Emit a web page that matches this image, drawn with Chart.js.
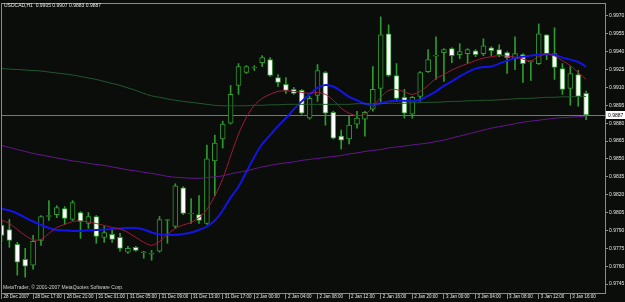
<!DOCTYPE html>
<html>
<head>
<meta charset="utf-8">
<script src="https://cdn.jsdelivr.net/npm/chart.js@4.4.1/dist/chart.umd.min.js"></script>
<style>
html,body{margin:0;padding:0;background:#0a0d0a;}
#wrap{width:625px;height:302px;position:relative;}
canvas{display:block;}
</style>
</head>
<body>
<div id="wrap"><canvas id="c" width="625" height="302"></canvas></div>
<script>
// ---------- data (USDCAD, H1) ----------
const symbolTitle = "USDCAD,H1";
const copyrightText = "MetaTrader, \u00a9 2001-2007 MetaQuotes Software Corp.";

const openP = [0.97942,0.97908,0.97783,0.97658,0.97608,0.97817,0.98017,0.98033,0.98083,0.97992,
0.98050,0.97958,0.98017,0.97842,0.97867,0.97842,0.97717,0.97758,0.97713,0.97700,
0.97725,0.97983,0.97933,0.98258,0.98038,0.98033,0.97958,0.98483,0.98667,0.98800,
0.99117,0.99225,0.99263,0.99308,0.99333,0.99183,0.99125,0.99083,0.99075,0.98842,
0.99033,0.99225,0.98892,0.98692,0.98667,0.98792,0.98833,0.98917,0.99092,0.99550,
0.99200,0.99017,0.98875,0.99025,0.99233,0.99363,0.99392,0.99425,0.99375,0.99383,
0.99408,0.99383,0.99433,0.99417,0.99392,0.99342,0.99375,0.99313,0.99300,0.99542,
0.99383,0.99258,0.99092,0.99208,0.99050];
const highP = [0.97983,0.97992,0.97800,0.97750,0.97858,0.98025,0.98150,0.98108,0.98100,0.98150,
0.98058,0.98050,0.98025,0.97933,0.97900,0.97875,0.97767,0.97767,0.97725,0.97733,
0.98017,0.97992,0.98292,0.98267,0.98167,0.98192,0.98617,0.98700,0.98817,0.99117,
0.99300,0.99283,0.99283,0.99367,0.99350,0.99208,0.99183,0.99100,0.99083,0.99025,
0.99292,0.99233,0.98900,0.98742,0.98858,0.98900,0.98900,0.99275,0.99692,0.99625,
0.99300,0.99083,0.99025,0.99233,0.99417,0.99525,0.99425,0.99433,0.99467,0.99425,
0.99417,0.99508,0.99442,0.99458,0.99400,0.99525,0.99383,0.99325,0.99633,0.99542,
0.99600,0.99300,0.99275,0.99242,0.99070];
const lowP = [0.97808,0.97758,0.97525,0.97508,0.97575,0.97775,0.97983,0.98008,0.97950,0.97983,
0.97833,0.97917,0.97792,0.97800,0.97800,0.97725,0.97708,0.97725,0.97667,0.97650,
0.97717,0.97792,0.97917,0.98033,0.97958,0.97958,0.97950,0.98192,0.98592,0.98792,
0.99042,0.99217,0.99242,0.99275,0.99192,0.99108,0.99050,0.99042,0.98875,0.98833,
0.98983,0.98783,0.98667,0.98583,0.98625,0.98758,0.98692,0.98900,0.98967,0.99192,
0.98983,0.98842,0.98842,0.98983,0.99225,0.99167,0.99150,0.99308,0.99342,0.99300,
0.99358,0.99367,0.99367,0.99358,0.99217,0.99250,0.99142,0.99158,0.99292,0.99333,
0.99167,0.99042,0.98950,0.98942,0.98830];
const closeP = [0.97858,0.97817,0.97633,0.97600,0.97808,0.98017,0.98025,0.98092,0.98000,0.98133,
0.97975,0.98017,0.97850,0.97883,0.97825,0.97750,0.97750,0.97733,0.97717,0.97704,
0.97992,0.97988,0.98275,0.98042,0.98042,0.97983,0.98500,0.98633,0.98792,0.99042,
0.99275,0.99275,0.99267,0.99350,0.99200,0.99142,0.99075,0.99050,0.98883,0.99008,
0.99242,0.98883,0.98675,0.98658,0.98783,0.98842,0.98892,0.99083,0.99542,0.99200,
0.99008,0.98883,0.99017,0.99225,0.99333,0.99367,0.99417,0.99367,0.99400,0.99417,
0.99375,0.99450,0.99408,0.99375,0.99350,0.99383,0.99300,0.99317,0.99550,0.99375,
0.99267,0.99083,0.99217,0.99025,0.98870];

// moving averages
const maRed = [0.97988,0.97958,0.97908,0.97858,0.97821,0.97825,0.97875,0.97925,0.97950,0.97975,
0.97979,0.97971,0.97958,0.97942,0.97925,0.97913,0.97883,0.97842,0.97800,0.97775,
0.97808,0.97867,0.97917,0.97946,0.97967,0.98008,0.98075,0.98192,0.98333,0.98525,
0.98708,0.98850,0.98950,0.99008,0.99042,0.99067,0.99071,0.99067,0.99058,0.99050,
0.99058,0.99042,0.98992,0.98925,0.98883,0.98863,0.98875,0.98933,0.99017,0.99075,
0.99081,0.99063,0.99042,0.99067,0.99117,0.99175,0.99208,0.99246,0.99275,0.99300,
0.99325,0.99346,0.99358,0.99367,0.99363,0.99354,0.99338,0.99321,0.99358,0.99383,
0.99363,0.99325,0.99283,0.99225,0.99167];
const maBlue = [0.98083,0.98067,0.98042,0.98008,0.97975,0.97946,0.97921,0.97904,0.97900,0.97896,
0.97896,0.97900,0.97904,0.97908,0.97913,0.97917,0.97921,0.97921,0.97908,0.97883,
0.97867,0.97863,0.97863,0.97871,0.97883,0.97904,0.97933,0.97983,0.98067,0.98175,
0.98267,0.98392,0.98517,0.98625,0.98700,0.98775,0.98842,0.98917,0.98983,0.99042,
0.99096,0.99121,0.99108,0.99067,0.99021,0.98992,0.98963,0.98950,0.98967,0.98983,
0.98988,0.98988,0.98983,0.98996,0.99029,0.99067,0.99113,0.99150,0.99192,0.99229,
0.99258,0.99271,0.99275,0.99300,0.99325,0.99346,0.99358,0.99367,0.99375,0.99379,
0.99375,0.99350,0.99333,0.99313,0.99275];
const maGreen = [0.99258,0.99254,0.99250,0.99246,0.99242,0.99238,0.99229,0.99221,0.99213,0.99204,
0.99192,0.99179,0.99167,0.99150,0.99133,0.99117,0.99096,0.99075,0.99050,0.99029,
0.99017,0.99004,0.98992,0.98983,0.98975,0.98967,0.98958,0.98950,0.98946,0.98946,
0.98946,0.98946,0.98950,0.98950,0.98954,0.98954,0.98958,0.98958,0.98958,0.98958,
0.98958,0.98958,0.98958,0.98958,0.98958,0.98963,0.98963,0.98963,0.98963,0.98967,
0.98967,0.98967,0.98971,0.98971,0.98975,0.98975,0.98979,0.98983,0.98983,0.98988,
0.98988,0.98992,0.98992,0.98996,0.99000,0.99004,0.99008,0.99008,0.99013,0.99017,
0.99017,0.99021,0.99021,0.99025,0.99025];
const maPurple = [0.98613,0.98596,0.98579,0.98563,0.98546,0.98533,0.98521,0.98508,0.98496,0.98483,
0.98475,0.98463,0.98454,0.98446,0.98433,0.98421,0.98408,0.98400,0.98388,0.98379,
0.98367,0.98354,0.98346,0.98342,0.98338,0.98338,0.98342,0.98350,0.98358,0.98375,
0.98388,0.98400,0.98417,0.98433,0.98446,0.98458,0.98467,0.98475,0.98488,0.98496,
0.98504,0.98513,0.98521,0.98529,0.98542,0.98550,0.98563,0.98571,0.98579,0.98592,
0.98600,0.98608,0.98617,0.98625,0.98633,0.98646,0.98658,0.98675,0.98692,0.98708,
0.98725,0.98742,0.98758,0.98771,0.98783,0.98796,0.98808,0.98817,0.98825,0.98833,
0.98842,0.98846,0.98850,0.98854,0.98858];

// time axis labels (every 4th bar) and price axis labels
const dateLabels = ["28 Dec 2007","28 Dec 17:00","28 Dec 21:00","31 Dec 01:00","31 Dec 05:00",
"31 Dec 09:00","31 Dec 13:00","31 Dec 17:00","2 Jan 00:00","2 Jan 04:00","2 Jan 08:00",
"2 Jan 12:00","2 Jan 16:00","2 Jan 20:00","3 Jan 00:00","3 Jan 04:00","3 Jan 08:00",
"3 Jan 12:00","3 Jan 16:00"];
const dateLabelBars = [0,4,8,12,16,20,24,28,32,36,40,44,48,52,56,60,64,68,72];
const priceTicks = [0.9745,0.9760,0.9775,0.9790,0.9805,0.9820,0.9835,0.9850,0.9865,
0.9880,0.9895,0.9910,0.9925,0.9940,0.9955,0.9970];

// ---------- styling ----------
const BG = '#0a0d0a';
const CANDLE = '#2f9a2f';
const FRAME = '#8a8a8a';
const TXT = '#e6e6e6';
const FONT = "'Liberation Sans', Arial, sans-serif";

const n = closeP.length;
const bars = openP.map((_, i) => i);
const bodyData = bars.map(i => ({x: i, y: [Math.min(openP[i], closeP[i]), Math.max(openP[i], closeP[i])]}));
const wickData = bars.map(i => ({x: i, y: [lowP[i], highP[i]]}));
const bodyFill = bars.map(i => closeP[i] >= openP[i] ? BG : '#ffffff');
const line = (arr) => bars.map(i => ({x: i, y: arr[i]}));

const decor = {
  id: 'decor',
  beforeDraw(chart) {
    const {ctx, width, height} = chart;
    ctx.save();
    ctx.fillStyle = BG;
    ctx.fillRect(0, 0, width, height);
    ctx.restore();
  },
  beforeDatasetsDraw(chart) {
    const {ctx, chartArea: a, scales: {y}} = chart;
    const py = Math.round(y.getPixelForValue(closeP[n - 1])) + 0.5;
    ctx.save();
    ctx.strokeStyle = '#777777';
    ctx.lineWidth = 1;
    ctx.beginPath();
    ctx.moveTo(a.left, py);
    ctx.lineTo(a.right, py);
    ctx.stroke();
    ctx.restore();
  },
  afterDraw(chart) {
    const {ctx, chartArea: a, scales: {y}} = chart;
    ctx.save();
    ctx.strokeStyle = FRAME;
    ctx.lineWidth = 1;
    ctx.strokeRect(a.left - 0.5, a.top - 0.5, a.right - a.left + 1, a.bottom - a.top + 1);
    ctx.fillStyle = TXT;
    ctx.font = "5px " + FONT;
    ctx.textBaseline = 'middle';
    ctx.textAlign = 'left';
    const hdr = symbolTitle + "  " + openP[n-1].toFixed(4) + " " + highP[n-1].toFixed(4) + " " +
                lowP[n-1].toFixed(4) + " " + closeP[n-1].toFixed(4);
    ctx.fillText(hdr, 4, 6);
    ctx.fillStyle = '#d0d0d0';
    ctx.fillText(copyrightText, 3, 288);
    const py = Math.round(y.getPixelForValue(closeP[n - 1]));
    ctx.fillStyle = '#ffffff';
    ctx.fillRect(a.right + 1, py - 4, 19, 8);
    ctx.fillStyle = '#000000';
    ctx.fillText(closeP[n - 1].toFixed(4), a.right + 3, py + 0.5);
    ctx.restore();
  }
};

new Chart(document.getElementById('c'), {
  type: 'bar',
  data: {
    datasets: [
      {type: 'line', data: line(maPurple), borderColor: '#65158f', borderWidth: 1, pointRadius: 0, tension: 0.3, order: 0},
      {type: 'line', data: line(maGreen), borderColor: '#22572f', borderWidth: 1, pointRadius: 0, tension: 0.3, order: 0},
      {type: 'line', data: line(maRed), borderColor: '#a3183c', borderWidth: 1, pointRadius: 0, tension: 0.3, order: 0},
      {type: 'line', data: line(maBlue), borderColor: '#1414e6', borderWidth: 2, pointRadius: 0, tension: 0.3, order: 0},
      {type: 'bar', data: bodyData, backgroundColor: bodyFill, borderColor: CANDLE, borderWidth: 1,
       borderSkipped: false, barThickness: 5, maxBarThickness: 5, minBarLength: 1, grouped: false, order: 5},
      {type: 'bar', data: wickData, backgroundColor: CANDLE, borderWidth: 0,
       barThickness: 1, maxBarThickness: 1, grouped: false, order: 6}
    ]
  },
  options: {
    responsive: false,
    animation: false,
    events: [],
    layout: {padding: {left: 2, top: 2, right: 0, bottom: 0}},
    plugins: {legend: {display: false}, tooltip: {enabled: false}, title: {display: false}},
    scales: {
      x: {
        type: 'linear',
        offset: false,
        min: 0.063,
        max: 76.39,
        border: {display: false},
        grid: {display: true, offset: false, drawOnChartArea: false, drawTicks: true, tickLength: 6, color: FRAME},
        afterBuildTicks: (s) => { s.ticks = dateLabelBars.map(v => ({value: v})); },
        afterFit: (s) => { s.height = 9; },
        ticks: {
          autoSkip: false, maxRotation: 0, minRotation: 0, align: 'start', labelOffset: 2, padding: -5,
          color: TXT, font: {family: FONT, size: 4.5},
          callback: (v, i) => dateLabels[i]
        }
      },
      y: {
        position: 'right',
        min: 0.97375,
        max: 0.99800,
        border: {display: false},
        grid: {display: true, drawOnChartArea: false, drawTicks: true, tickLength: 3, color: FRAME},
        afterBuildTicks: (s) => { s.ticks = priceTicks.map(v => ({value: v})); },
        afterFit: (s) => { s.width = 20; },
        ticks: {
          padding: 1, color: TXT, font: {family: FONT, size: 5},
          callback: (v) => Number(v).toFixed(4)
        }
      }
    }
  },
  plugins: [decor]
});
</script>
</body>
</html>
